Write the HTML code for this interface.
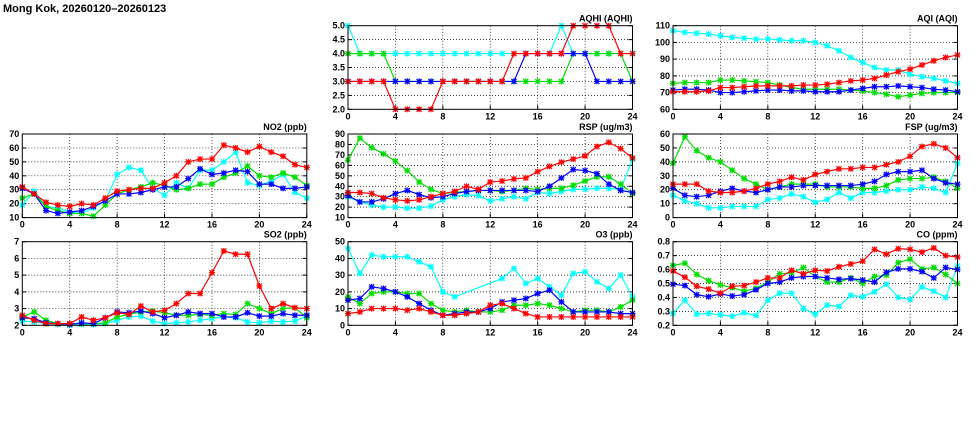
<!DOCTYPE html>
<html><head><meta charset="utf-8"><style>
html,body{margin:0;padding:0;background:#fff;}
svg{display:block;}
text{font-family:"Liberation Sans",sans-serif;font-weight:bold;font-size:9px;fill:#000;}
</style></head><body>
<svg id="s" width="975" height="447" viewBox="0 0 975 447" xmlns="http://www.w3.org/2000/svg">
<rect width="975" height="447" fill="#fff"/>
<text x="3" y="12" style="font-size:11px">Mong Kok, 20260120–20260123</text>
</svg>
<script>
const C={c:"#00ffff",g:"#00dd00",b:"#0000ff",r:"#ff0000"};
const P=[
{t:"AQHI (AQHI)",x:348,y:25.7,min:2,max:5,st:0.5,d:1,s:{
c:[5,4,4,4,4,4,4,4,4,4,4,4,4,4,4,4,4,4,5,4,4,4,4,4,4],
g:[4,4,4,4,3,3,3,3,3,3,3,3,3,3,3,3,3,3,3,4,4,4,4,4,3],
b:[3,3,3,3,3,3,3,3,3,3,3,3,3,3,3,4,4,4,4,4,4,3,3,3,3],
r:[3,3,3,3,2,2,2,2,3,3,3,3,3,3,4,4,4,4,4,5,5,5,5,4,4]}},
{t:"AQI (AQI)",x:673,y:25.7,min:60,max:110,st:10,d:0,s:{
c:[107,106,105.5,105,104,103,102.5,102,102,101.5,101,101,100,98,95,91,88,85,83.5,83.5,81,79.5,78.5,77,75.5],
g:[75.5,76,76,76,77.5,77.5,77,76.5,76,74.5,73,72,72,72,72,71.5,71,70,69,67.5,68.5,69.5,70,70,70],
b:[71.5,72,72,71.5,70,70,70.5,71,71.5,71.5,71,71,70.5,70.5,70.5,71.5,72.5,73.5,73.5,74,73.5,73,72,71.5,70.5],
r:[70.5,70.5,70.5,71,73,73,73.5,74,74,74,74,74.5,74.5,75,76,77,77.5,78.5,80.5,82.5,84,86.5,89,91,92.5]}},
{t:"NO2 (ppb)",x:22.3,y:134,min:10,max:70,st:10,d:0,s:{
c:[19,29,18,17,14,13,17,22,41,46,44,31,26,35,31,44,44,50,57,35,33,36,41,28,24],
g:[24,27,18,15,13,13,11,19,27,30,32,35,33,30,31,34,34,39,42,47,40,39,42,39,33],
b:[31,27,15,13,14,15,18,22,27,27,28,30,32,32,38,45,41,42,44,43,34,34,31,31,32],
r:[32,27,21,19,18,20,19,24,29,30,31,31,35,40,50,52,52,62,60,57,61,57,54,48,46]}},
{t:"RSP (ug/m3)",x:348,y:134,min:10,max:90,st:10,d:0,s:{
c:[30,25,22,20,20,19,19,21,27,30,32,31,26,28,30,28,34,33,35,37,37,38,38,37,66],
g:[65,86,77,71,64,55,44,37,33,34,35,36,36,35,36,38,37,38,38,41,45,49,49,42,33],
b:[31,25,25,28,33,36,32,29,30,33,35,36,36,36,36,36,35,40,48,56,55,52,42,36,34],
r:[34,34,33,29,27,26,27,30,33,35,40,37,44,45,47,48,54,59,63,66,69,78,82,76,67]}},
{t:"FSP (ug/m3)",x:673,y:134,min:0,max:60,st:10,d:0,s:{
c:[16,12,10,7,7,8,8,8,13,14,17,15,11,13,18,14,18,18,19,20,20,22,21,18,39],
g:[39,58,48,43,40,34,28,24,20,22,24,24,24,22,22,22,21,21,23,27,28,28,29,26,21],
b:[21,16,15,16,19,21,19,18,20,22,22,23,23,23,23,23,24,26,31,33,33,34,28,25,24],
r:[24,24,24,19,18,18,19,21,24,26,29,27,31,33,35,35,36,36,38,40,44,51,53,50,43]}},
{t:"SO2 (ppb)",x:22.3,y:241.7,min:2,max:7,st:1,d:0,s:{
c:[2.25,2.2,2.1,2.05,2.0,2.05,2.05,2.1,2.3,2.5,2.55,2.25,2.1,2.15,2.2,2.3,2.4,2.5,2.45,2.2,2.15,2.25,2.2,2.25,2.55],
g:[2.5,2.8,2.3,2.1,2.1,2.1,2.1,2.15,2.5,2.65,2.8,2.85,2.75,2.6,2.6,2.65,2.6,2.7,2.65,3.3,3.0,2.7,3.0,3.05,2.45],
b:[2.45,2.4,2.15,2.1,2.05,2.15,2.1,2.45,2.8,2.75,2.85,2.7,2.45,2.6,2.8,2.7,2.7,2.5,2.5,2.75,2.55,2.55,2.7,2.6,2.6],
r:[2.6,2.3,2.1,2.1,2.1,2.5,2.3,2.45,2.75,2.65,3.15,2.8,2.9,3.3,3.9,3.9,5.15,6.45,6.25,6.25,4.35,3.0,3.3,3.05,3.0]}},
{t:"O3 (ppb)",x:348,y:241.7,min:0,max:50,st:10,d:0,s:{
c:[46,31,42,41,41,41,38,35,20,17,null,null,null,28,34,25,28,23,18,31,32,26,22,30,17],
g:[17,13,19,20,20,19,19,13,9,8,9,8,8,9,12,12,13,12,10,8,9,9,8,11,15],
b:[15,16,23,22,20,17,13,9,6,7,8,8,10,14,15,16,19,21,14,8,8,8,8,7,7],
r:[7,8,10,10,10,9,10,8,6,6,7,8,12,13,10,7,5,5,5,5,5,5,5,5,5]}},
{t:"CO (ppm)",x:673,y:241.7,min:0.2,max:0.8,st:0.1,d:1,s:{
c:[.285,.38,.28,.285,.275,.265,.29,.27,.38,.43,.43,.32,.28,.345,.335,.415,.405,.44,.495,.40,.385,.475,.445,.40,.625],
g:[.63,.645,.565,.52,.49,.47,.445,.465,.51,.57,.575,.615,.55,.51,.51,.54,.50,.55,.56,.65,.675,.605,.615,.565,.50],
b:[.495,.485,.42,.405,.425,.41,.42,.455,.50,.51,.54,.55,.55,.54,.53,.535,.525,.51,.58,.605,.605,.585,.54,.615,.60],
r:[.59,.545,.48,.46,.43,.48,.485,.51,.54,.54,.595,.57,.595,.59,.62,.64,.66,.745,.71,.75,.745,.725,.755,.70,.69]}}
];
const W=284.5,H=83.6,NS="http://www.w3.org/2000/svg",svg=document.getElementById("s");
function el(n,a,t){const e=document.createElementNS(NS,n);for(const k in a)e.setAttribute(k,a[k]);if(t!=null)e.textContent=t;svg.appendChild(e);return e;}
for(const p of P){
 const X=h=>p.x+h/24*W, Y=v=>p.y+H-(v-p.min)/(p.max-p.min)*H;
 const n=Math.round((p.max-p.min)/p.st);
 for(let i=0;i<=n;i++){const v=p.min+i*p.st,y=Y(v);
  if(i>0&&i<n)el("line",{x1:p.x,x2:p.x+W,y1:y,y2:y,stroke:"#000","stroke-width":0.7,"stroke-dasharray":"1,2"});
  el("line",{x1:p.x,x2:p.x+4,y1:y,y2:y,stroke:"#000"});el("line",{x1:p.x+W-4,x2:p.x+W,y1:y,y2:y,stroke:"#000"});
  el("text",{x:p.x-3,y:y+3,"text-anchor":"end"},v.toFixed(p.d));}
 for(let h=0;h<=24;h+=4){const x=X(h);
  if(h>0&&h<24)el("line",{x1:x,x2:x,y1:p.y,y2:p.y+H,stroke:"#000","stroke-width":0.7,"stroke-dasharray":"1,2"});
  el("line",{x1:x,x2:x,y1:p.y+H-4,y2:p.y+H,stroke:"#000"});
  el("text",{x:x,y:p.y+H+10,"text-anchor":"middle"},h);}
 el("text",{x:p.x+W,y:p.y-4,"text-anchor":"end"},p.t);
 for(const k of ["c","g","b","r"]){const d=p.s[k];let pts=[];
  d.forEach((v,i)=>{if(v!=null)pts.push([X(i),Y(v)]);});
  el("polyline",{points:pts.map(q=>q.join(",")).join(" "),fill:"none",stroke:C[k],"stroke-width":1.2});
  for(const [x,y] of pts){
   el("path",{d:`M${x-2.5},${y-2.5}L${x+2.5},${y+2.5}M${x-2.5},${y+2.5}L${x+2.5},${y-2.5}M${x-3},${y}L${x+3},${y}M${x},${y-3}L${x},${y+3}`,stroke:C[k],"stroke-width":1.2,fill:"none"});
   el("rect",{x:x-2,y:y-2,width:4,height:4,fill:C[k],opacity:0.35});}
 }
 el("rect",{x:p.x,y:p.y,width:W,height:H,fill:"none",stroke:"#000","stroke-width":1});
}
</script>
</body></html>
